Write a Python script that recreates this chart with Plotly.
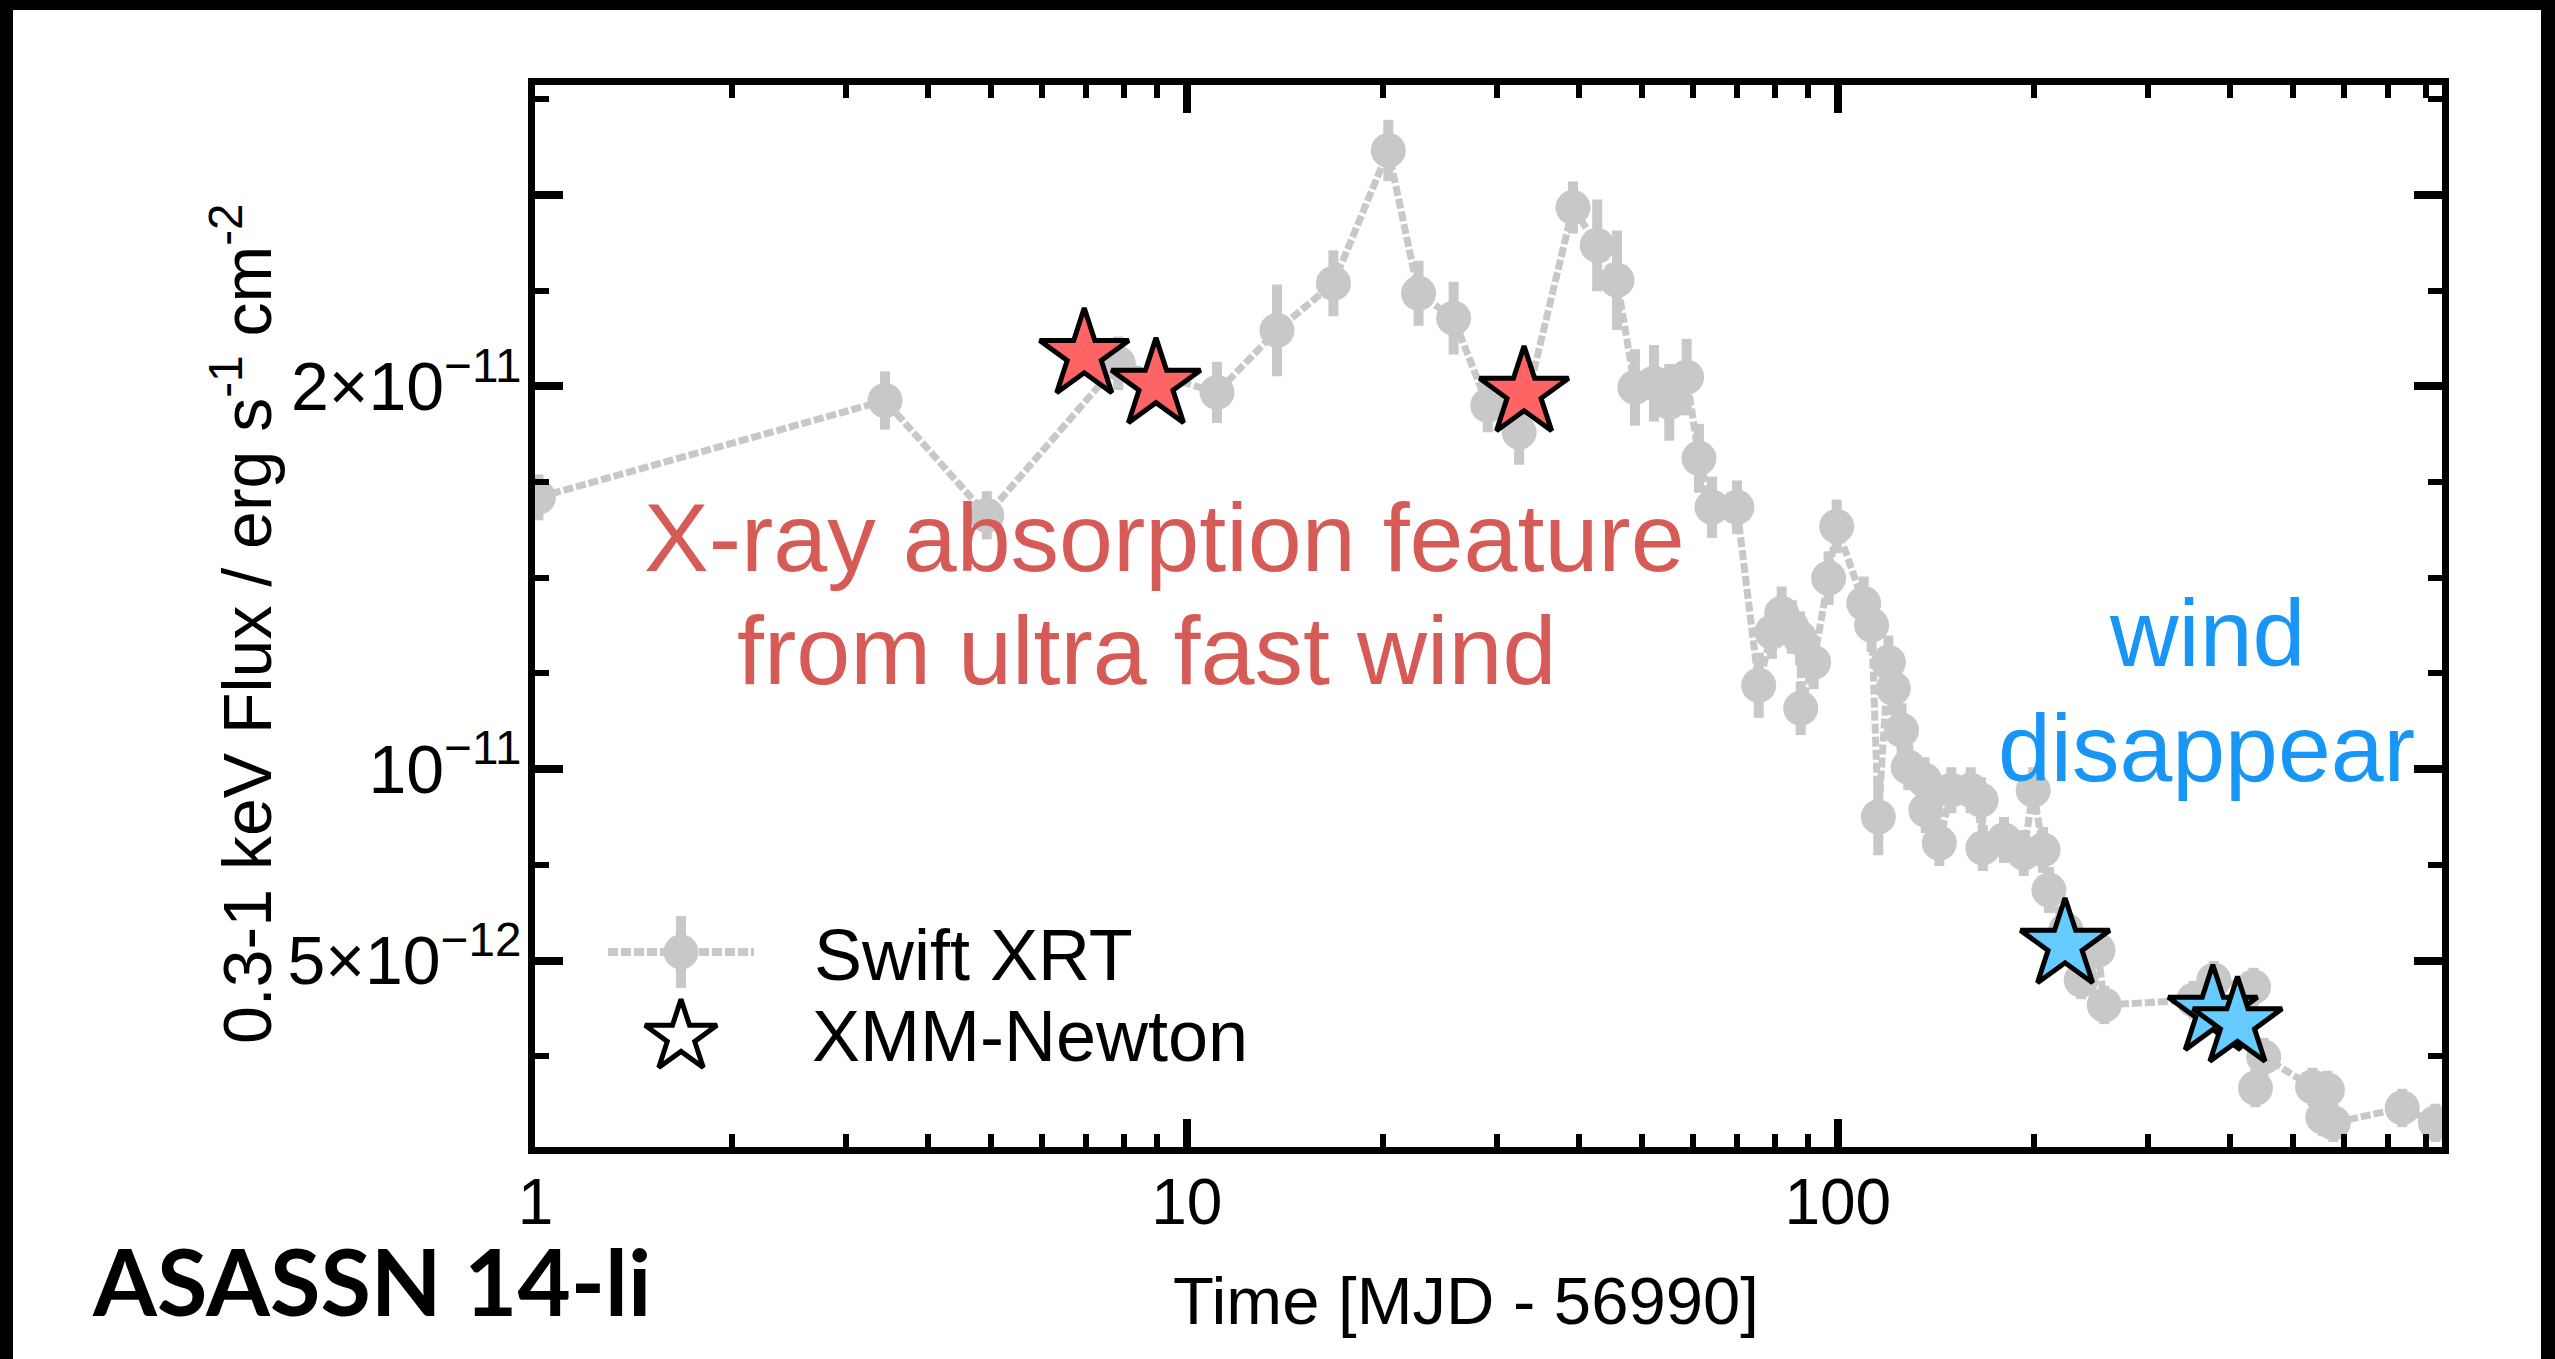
import plotly.graph_objects as go

# ---------------- data (flux in units of 1e-11 erg s^-1 cm^-2) ----------------
swift_day = [1.01, 3.44, 4.93, 7.85, 11.13, 13.76, 16.8, 20.4, 22.7, 25.7,
             29.0, 32.4, 39.2, 42.7, 45.8, 48.8, 52.2, 55.1, 58.6, 61.2,
             64.1, 70.0, 75.6, 79.2, 82.0, 85.0, 87.5, 87.7, 91.8, 96.8,
             99.6, 109.6, 112.7, 115.4, 119.6, 121.7, 125.3, 128.3, 135.9, 136.5,
             143.2, 149.4, 160.0, 166.0, 167.0, 180.0, 193.0, 199.6, 206.7, 211.0,
             224.0, 236.5, 251.0, 256.6, 352.0, 378.0, 435.0, 438.0, 451.0, 536.0,
             556.0, 565.0, 577.0, 736.0, 828.0]
swift_flux = [1.71, 1.963, 1.663, 2.06, 1.984, 2.146, 2.269, 2.616, 2.243, 2.178,
              1.950, 1.880, 2.467, 2.368, 2.277, 1.997, 2.008, 1.958, 2.024, 1.812,
              1.684, 1.684, 1.219, 1.358, 1.407, 1.371, 1.342, 1.159, 1.279, 1.499,
              1.634, 1.433, 1.376, 0.875, 1.279, 1.211, 1.102, 1.005, 0.971, 0.893,
              0.807, 0.945, 0.945, 0.919, 0.794, 0.815, 0.781, 0.945, 0.789, 0.684,
              0.58, 0.449, 0.527, 0.384, 0.397, 0.449, 0.431, 0.167, 0.248, 0.170,
              0.091, 0.162, 0.076, 0.115, 0.076]
swift_err = [0.06, 0.076, 0.063, 0.07, 0.08, 0.12, 0.086, 0.08, 0.085, 0.095,
             0.07, 0.085, 0.068, 0.12, 0.13, 0.10, 0.10, 0.10, 0.10, 0.09,
             0.08, 0.07, 0.085, 0.07, 0.07, 0.07, 0.07, 0.07, 0.07, 0.07,
             0.07, 0.07, 0.07, 0.10, 0.07, 0.07, 0.07, 0.06, 0.06, 0.06,
             0.06, 0.06, 0.06, 0.06, 0.06, 0.06, 0.06, 0.06, 0.06, 0.06,
             0.06, 0.05, 0.05, 0.05, 0.05, 0.05, 0.05, 0.05, 0.05, 0.05,
             0.05, 0.05, 0.05, 0.05, 0.05]

xmm_wind_day = [6.96, 8.97, 32.97]
xmm_wind_flux = [2.082, 2.004, 1.983]
xmm_nowind_day = [223.4, 376.7, 411.0]
xmm_nowind_flux = [0.541, 0.3665, 0.336]

x_major = [1, 10, 100]
x_major_text = ["1", "10", "100"]
x_minor = [2, 3, 4, 5, 6, 7, 8, 9, 20, 30, 40, 50, 60, 70, 80, 90,
           200, 300, 400, 500, 600, 700, 800]
y_major = [0.5, 1.0, 2.0, 2.5]
y_major_text = ["5×10<sup>−12</sup>", "10<sup>−11</sup>", "2×10<sup>−11</sup>", " "]
y_minor = [0.25, 0.75, 1.25, 1.5, 1.75, 2.25, 2.75]

# ---------------- layout geometry (pixels) ----------------
W, H = 2555, 1359
L, R, T, B = 535, 2442, 85, 1147

def px(xp):
    return (xp - L) / (R - L)

def py(yp):
    return (B - yp) / (B - T)

GRAY = "#C8C8C8"
FONT = "Liberation Sans, Arial, sans-serif"

fig = go.Figure()

fig.add_trace(go.Scatter(
    x=swift_day, y=swift_flux, mode="lines+markers", name="Swift XRT",
    line=dict(color=GRAY, width=7, dash="10px,3px"),
    marker=dict(color=GRAY, size=35, symbol="circle"),
    error_y=dict(type="data", array=swift_err, color=GRAY, thickness=10, width=0),
    showlegend=False,
))
fig.add_trace(go.Scatter(
    x=xmm_wind_day, y=xmm_wind_flux, mode="markers", name="XMM-Newton (wind)",
    marker=dict(symbol="star", size=67, color="#FF6464", line=dict(color="black", width=5)),
    showlegend=False,
))
fig.add_trace(go.Scatter(
    x=xmm_nowind_day, y=xmm_nowind_flux, mode="markers", name="XMM-Newton (no wind)",
    marker=dict(symbol="star", size=67, color="#66CCFF", line=dict(color="black", width=5)),
    showlegend=False,
))

# ---- hand-drawn legend on a pixel-coordinate overlay subplot ----
fig.add_trace(go.Scatter(
    x=[608, 754], y=[952, 952], mode="lines", xaxis="x2", yaxis="y2",
    line=dict(color=GRAY, width=8, dash="10px,3px"), showlegend=False, hoverinfo="skip"))
fig.add_trace(go.Scatter(
    x=[681], y=[952], mode="markers", xaxis="x2", yaxis="y2",
    marker=dict(color=GRAY, size=35),
    error_y=dict(type="data", array=[36], color=GRAY, thickness=10, width=0),
    showlegend=False, hoverinfo="skip"))
fig.add_trace(go.Scatter(
    x=[681], y=[1037], mode="markers", xaxis="x2", yaxis="y2",
    marker=dict(symbol="star", size=54, color="white", line=dict(color="black", width=5)),
    showlegend=False, hoverinfo="skip"))

axis_common = dict(
    showline=True, linecolor="black", linewidth=7, mirror="allticks",
    ticks="inside", ticklen=28, tickwidth=8, tickcolor="black",
    showgrid=False, zeroline=False,
)

fig.update_layout(
    width=W, height=H,
    margin=dict(l=L, r=W - R, t=T, b=H - B, pad=0),
    paper_bgcolor="white", plot_bgcolor="rgba(0,0,0,0)",
    showlegend=False,
    xaxis=dict(
        type="log", range=[-0.001, 2.928], tickmode="array",
        tickvals=x_major, ticktext=x_major_text, ticklabelstandoff=-7,
        tickfont=dict(family=FONT, size=64, color="black"),
        minor=dict(tickmode="array", tickvals=x_minor, ticks="inside",
                   ticklen=13, tickwidth=6, tickcolor="black", showgrid=False),
        **axis_common,
    ),
    yaxis=dict(
        type="linear", range=[0.013, 2.787], tickmode="array",
        tickvals=y_major, ticktext=y_major_text, ticklabelstandoff=-7,
        tickfont=dict(family=FONT, size=68, color="black"),
        minor=dict(tickmode="array", tickvals=y_minor, ticks="inside",
                   ticklen=14, tickwidth=6, tickcolor="black", showgrid=False),
        **axis_common,
    ),
    xaxis2=dict(domain=[0, 1], range=[L, R], anchor="y2", visible=False),
    yaxis2=dict(domain=[0, 1], range=[B, T], anchor="x2", visible=False),
)

ann = []
# axis titles
ann.append(dict(x=px(242), y=py(624), xref="paper", yref="paper", textangle=-90,
                text="0.3-1 keV Flux / erg s<sup>-1</sup> cm<sup>-2</sup>",
                font=dict(family=FONT, size=68, color="black"),
                showarrow=False, xanchor="center", yanchor="middle"))
ann.append(dict(x=px(1466), y=py(1300), xref="paper", yref="paper",
                text="Time [MJD - 56990]",
                font=dict(family=FONT, size=67, color="black"),
                showarrow=False, xanchor="center", yanchor="middle"))
# legend labels
ann.append(dict(x=px(812), y=py(955), xref="paper", yref="paper", text="Swift XRT",
                font=dict(family=FONT, size=72, color="black"),
                showarrow=False, xanchor="left", yanchor="middle"))
ann.append(dict(x=px(810), y=py(1036), xref="paper", yref="paper", text="XMM-Newton",
                font=dict(family=FONT, size=72, color="black"),
                showarrow=False, xanchor="left", yanchor="middle"))
# red annotation
RED = "#D65B56"
ann.append(dict(x=px(1164), y=py(537), xref="paper", yref="paper",
                text="X-ray absorption feature",
                font=dict(family=FONT, size=97, color=RED),
                showarrow=False, xanchor="center", yanchor="middle"))
ann.append(dict(x=px(1146), y=py(650), xref="paper", yref="paper",
                text="from ultra fast wind",
                font=dict(family=FONT, size=97, color=RED),
                showarrow=False, xanchor="center", yanchor="middle"))
# blue annotation
BLUE = "#1796F5"
ann.append(dict(x=px(2207), y=py(633), xref="paper", yref="paper", text="wind",
                font=dict(family=FONT, size=95, color=BLUE),
                showarrow=False, xanchor="center", yanchor="middle"))
ann.append(dict(x=px(2206), y=py(748), xref="paper", yref="paper", text="disappear",
                font=dict(family=FONT, size=95, color=BLUE),
                showarrow=False, xanchor="center", yanchor="middle"))
# object label
ann.append(dict(x=px(90), y=py(1280), xref="paper", yref="paper", text="<b>ASASSN 14-li</b>",
                font=dict(family="Lato, Open Sans, sans-serif", size=92, color="black"),
                showarrow=False, xanchor="left", yanchor="middle"))
fig.update_layout(annotations=ann)

# slide frame (black border on left, top, right)
shapes = [
    dict(type="rect", xref="paper", yref="paper", x0=px(0), x1=px(13), y0=py(H), y1=py(0),
         fillcolor="black", line=dict(width=0), layer="above"),
    dict(type="rect", xref="paper", yref="paper", x0=px(0), x1=px(W), y0=py(10), y1=py(0),
         fillcolor="black", line=dict(width=0), layer="above"),
    dict(type="rect", xref="paper", yref="paper", x0=px(2541), x1=px(W), y0=py(H), y1=py(0),
         fillcolor="black", line=dict(width=0), layer="above"),
]
fig.update_layout(shapes=shapes)

fig.write_html("out.html")
